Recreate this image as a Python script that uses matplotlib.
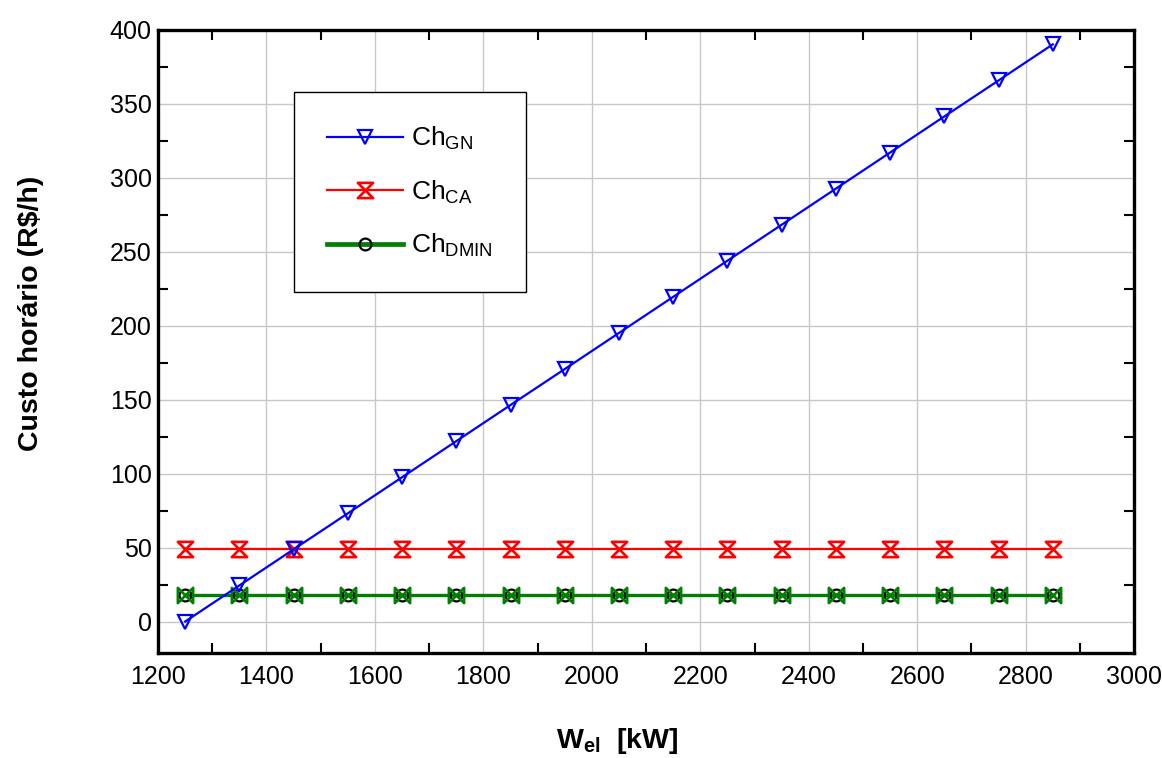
import numpy as np
import matplotlib.pyplot as plt
from matplotlib.path import Path

plt.rcParams["font.family"] = ["Liberation Sans", "DejaVu Sans"]
plt.rcParams["mathtext.fontset"] = "custom"
plt.rcParams["mathtext.rm"] = "Liberation Sans"
plt.rcParams["mathtext.it"] = "Liberation Sans"
plt.rcParams["mathtext.bf"] = "Liberation Sans:bold"

# Potência elétrica (kW) e custos horários (R$/h)
w_el = [1250, 1350, 1450, 1550, 1650, 1750, 1850, 1950, 2050,
        2150, 2250, 2350, 2450, 2550, 2650, 2750, 2850]
ch_gn = [0.0, 24.4, 48.8, 73.1, 97.5, 121.9, 146.3, 170.6, 195.0,
         219.4, 243.8, 268.1, 292.5, 316.9, 341.3, 365.6, 390.0]
ch_ca = [49.3] * len(w_el)
ch_dmin = [17.8] * len(w_el)

x_ticks = [1200, 1400, 1600, 1800, 2000, 2200, 2400, 2600, 2800, 3000]
y_ticks = [0, 50, 100, 150, 200, 250, 300, 350, 400]

# marcadores: ampulheta e gravata
hourglass = Path([(-1, 1), (1, 1), (-1, -1), (1, -1), (-1, 1)],
                 [Path.MOVETO, Path.LINETO, Path.LINETO, Path.LINETO, Path.CLOSEPOLY])
bowtie = Path([(-1, 1), (-1, -1), (1, 1), (1, -1), (-1, 1)],
              [Path.MOVETO, Path.LINETO, Path.LINETO, Path.LINETO, Path.CLOSEPOLY])

fig = plt.figure(figsize=(11.62, 7.58), dpi=100)
ax = fig.add_axes([0.136, 0.139, 0.840, 0.822])

ax.plot(w_el, ch_dmin, color="green", lw=2.4, zorder=3)
ax.plot(w_el, ch_dmin, ls="none", marker="o", ms=8.5, mfc="none", mec="black",
        mew=1.6, zorder=4)
ax.plot(w_el, ch_dmin, ls="none", marker=bowtie, ms=11, mfc="none", mec="green",
        mew=1.9, zorder=5)
ax.plot(w_el, ch_ca, color="red", lw=1.6, marker=hourglass, ms=11, mfc="none",
        mec="red", mew=1.9, zorder=3)
ax.plot(w_el, ch_gn, color="blue", lw=1.6, marker="v", ms=10, mfc="none",
        mec="blue", mew=1.6, zorder=6)

# entradas da legenda
h_gn, = ax.plot([], [], color="blue", lw=1.6, marker="v", ms=10, mfc="none", mew=1.6)
h_ca, = ax.plot([], [], color="red", lw=1.6, marker=hourglass, ms=11, mfc="none", mew=1.9)
h_dm, = ax.plot([], [], color="green", lw=3.4, marker="o", ms=8.5, mfc="none",
                mec="black", mew=1.6)
leg = ax.legend([h_gn, h_ca, h_dm],
                [r"Ch$_{\mathrm{GN}}$", r"Ch$_{\mathrm{CA}}$", r"Ch$_{\mathrm{DMIN}}$"],
                loc="upper left", bbox_to_anchor=(0.139, 0.9), borderaxespad=0,
                fontsize=19, handlelength=2.9, handletextpad=0.3, labelspacing=1.0,
                borderpad=1.25, numpoints=1, fancybox=False, framealpha=1)
leg.get_frame().set_edgecolor("black")
leg.get_frame().set_linewidth(1.0)
leg.set_zorder(10)

ax.set_xlim(1200, 3000)
ax.set_ylim(-21, 400)
ax.set_xticks(x_ticks)
ax.set_yticks(y_ticks)
ax.set_xticks(np.arange(1300, 3000, 200), minor=True)
ax.set_yticks([0] + list(np.arange(25, 400, 50)), minor=True)
ax.grid(True, which="major", color="#c8c8c8", lw=1.0)
ax.set_axisbelow(True)

ax.tick_params(which="major", length=0, labelsize=18)
ax.tick_params(axis="y", which="major", pad=4.5)
ax.tick_params(axis="x", which="major", pad=9)
ax.tick_params(which="minor", direction="in", length=7, width=1.5,
               top=True, right=True)
for s in ax.spines.values():
    s.set_linewidth(2.4)

ax.set_xlabel(r"W$_{\mathbf{el}}$  [kW]", fontsize=20.5, fontweight="bold")
ax.xaxis.set_label_coords(0.47, -0.118)
ax.set_ylabel("Custo horário (R\\$/h)", fontsize=20.5, fontweight="bold")
ax.yaxis.set_label_coords(-0.117, 0.545)

fig.savefig("out.png", dpi=100)
